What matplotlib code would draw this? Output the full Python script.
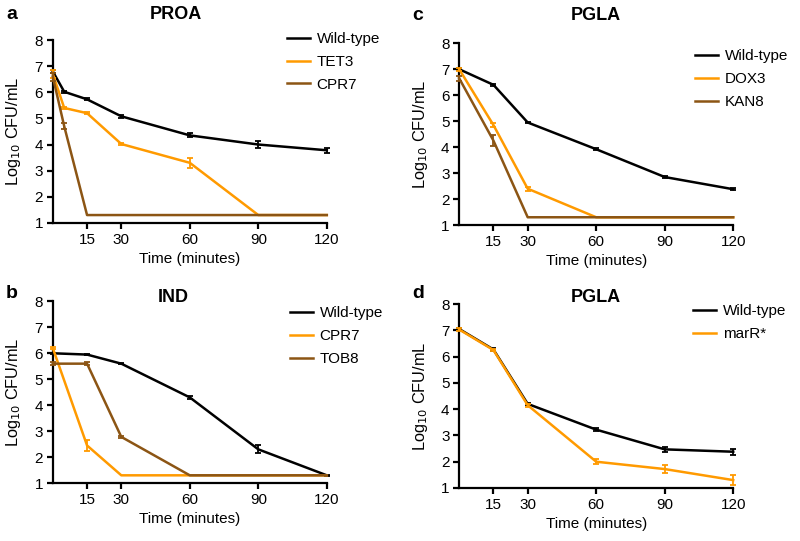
import matplotlib
matplotlib.use("Agg")
import matplotlib.pyplot as plt
import numpy as np

plt.rcParams['font.family'] = ['Liberation Sans', 'DejaVu Sans']

BLACK = '#000000'
ORANGE = '#ff9a00'
BROWN = '#8c5514'

# panel a - PROA
t_a = [0, 5, 15, 30, 60, 90, 120]
wt_a = [6.8, 6.02, 5.73, 5.08, 4.35, 4.0, 3.78]
wt_a_err = [0.05, 0.04, 0.04, 0.05, 0.08, 0.12, 0.1]
tet3_a = [6.7, 5.4, 5.2, 4.02, 3.3, 1.3, 1.3]
tet3_a_err = [0.15, 0.05, 0.05, 0.04, 0.2, 0, 0]
cpr7_a = [6.6, 4.7, 1.3, 1.3, 1.3, 1.3, 1.3]
cpr7_a_err = [0.15, 0.12, 0, 0, 0, 0, 0]

# panel b - IND
t_b = [0, 15, 30, 60, 90, 120]
wt_b = [6.0, 5.95, 5.6, 4.3, 2.3, 1.3]
wt_b_err = [0.02, 0.02, 0.03, 0.05, 0.15, 0.02]
cpr7_b = [6.2, 2.45, 1.3, 1.3, 1.3, 1.3]
cpr7_b_err = [0.05, 0.2, 0, 0, 0, 0]
tob8_b = [5.6, 5.6, 2.78, 1.3, 1.3, 1.3]
tob8_b_err = [0.05, 0.05, 0.05, 0, 0, 0]

# panel c - PGLA
t_c = [0, 15, 30, 60, 90, 120]
wt_c = [7.0, 6.4, 4.95, 3.92, 2.85, 2.38]
wt_c_err = [0.04, 0.04, 0.03, 0.03, 0.03, 0.03]
dox3_c = [7.0, 4.85, 2.4, 1.3, 1.3, 1.3]
dox3_c_err = [0.06, 0.08, 0.08, 0, 0, 0]
kan8_c = [6.65, 4.25, 1.3, 1.3, 1.3, 1.3]
kan8_c_err = [0.1, 0.2, 0, 0, 0, 0]

# panel d - PGLA
t_d = [0, 15, 30, 60, 90, 120]
wt_d = [7.05, 6.27, 4.2, 3.22, 2.47, 2.38]
wt_d_err = [0.04, 0.05, 0.05, 0.05, 0.1, 0.12]
marr_d = [7.03, 6.25, 4.15, 2.0, 1.72, 1.3]
marr_d_err = [0.04, 0.05, 0.05, 0.1, 0.15, 0.2]

xticks = [15, 30, 60, 90, 120]
yticks = [1, 2, 3, 4, 5, 6, 7, 8]


def draw_series(ax, t, y, err, color, label):
    t = np.array(t, dtype=float)
    y = np.array(y, dtype=float)
    err = np.array(err, dtype=float)
    ax.plot(t, y, color=color, lw=1.8, label=label, zorder=3, clip_on=False)
    # only draw bars where there is an error value
    m = err > 0
    ax.errorbar(t[m], y[m], yerr=err[m], fmt='none', ecolor=color,
                elinewidth=1.3, capsize=2.5, capthick=1.3, zorder=3, clip_on=False)


def style_axes(ax, title, letter, title_xy, letter_y, leg_xy):
    ax.set_xlim(0, 120)
    ax.set_ylim(1, 8)
    ax.set_xticks(xticks)
    ax.set_yticks(yticks)
    for s in ['top', 'right']:
        ax.spines[s].set_visible(False)
    for s in ['left', 'bottom']:
        ax.spines[s].set_linewidth(1.6)
    ax.tick_params(width=1.6, length=4, labelsize=11, pad=3)
    ax.set_xlabel('Time (minutes)', fontsize=11, labelpad=4)
    ax.set_ylabel('Log$_{10}$ CFU/mL', fontsize=11.8, labelpad=8)
    ax.text(title_xy[0], title_xy[1], title, transform=ax.transAxes, fontsize=13,
            fontweight='bold', ha='center', va='center')
    ax.legend(loc='upper left', bbox_to_anchor=leg_xy, frameon=False,
              fontsize=11, handlelength=1.5, handletextpad=0.45,
              borderaxespad=0, borderpad=0, labelspacing=0.58)
    ax.text(-0.15, letter_y, letter, transform=ax.transAxes, fontsize=14,
            fontweight='bold', ha='center', va='center')


fig = plt.figure(figsize=(8, 5.41), dpi=100)

ax_a = fig.add_axes([0.066, 0.588, 0.3425, 0.338])
draw_series(ax_a, t_a, wt_a, wt_a_err, BLACK, 'Wild-type')
draw_series(ax_a, t_a, tet3_a, tet3_a_err, ORANGE, 'TET3')
draw_series(ax_a, t_a, cpr7_a, cpr7_a_err, BROWN, 'CPR7')
style_axes(ax_a, 'PROA', 'a', (0.45, 1.137), 1.137, (0.854, 1.044))

ax_c = fig.add_axes([0.574, 0.584, 0.3425, 0.336])
draw_series(ax_c, t_c, wt_c, wt_c_err, BLACK, 'Wild-type')
draw_series(ax_c, t_c, dox3_c, dox3_c_err, ORANGE, 'DOX3')
draw_series(ax_c, t_c, kan8_c, kan8_c_err, BROWN, 'KAN8')
style_axes(ax_c, 'PGLA', 'c', (0.5, 1.154), 1.154, (0.861, 0.967))

ax_b = fig.add_axes([0.066, 0.107, 0.3425, 0.336])
draw_series(ax_b, t_b, wt_b, wt_b_err, BLACK, 'Wild-type')
draw_series(ax_b, t_b, cpr7_b, cpr7_b_err, ORANGE, 'CPR7')
draw_series(ax_b, t_b, tob8_b, tob8_b_err, BROWN, 'TOB8')
style_axes(ax_b, 'IND', 'b', (0.44, 1.022), 1.044, (0.865, 0.973))

ax_d = fig.add_axes([0.574, 0.098, 0.3425, 0.34])
draw_series(ax_d, t_d, wt_d, wt_d_err, BLACK, 'Wild-type')
draw_series(ax_d, t_d, marr_d, marr_d_err, ORANGE, 'marR*')
style_axes(ax_d, 'PGLA', 'd', (0.5, 1.038), 1.06, (0.854, 1.0))

fig.savefig('out.png', dpi=100)
